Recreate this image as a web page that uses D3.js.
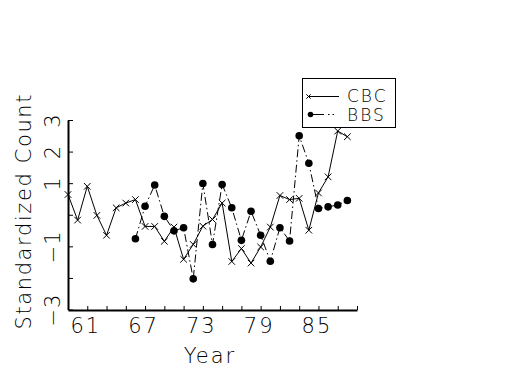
<!DOCTYPE html>
<html>
<head>
<meta charset="utf-8">
<script src="https://cdn.jsdelivr.net/npm/d3@7"></script>
<style>
  body { margin: 0; background: #fff; }
  text { font-family: "DejaVu Sans", sans-serif; font-weight: 200; fill: #000; }
</style>
</head>
<body>
<svg id="chart" width="525" height="375"></svg>
<script>
// survey years, 1959-1988
const cbcYears = [59, 60, 61, 62, 63, 64, 65, 66, 67, 68, 69, 70, 71, 72, 73,
  74, 75, 76, 77, 78, 79, 80, 81, 82, 83, 84, 85, 86, 87, 88];
const cbcValues = [0.64, -0.17, 0.90, -0.02, -0.65, 0.22, 0.37, 0.48, -0.37, -0.37,
  -0.84, -0.39, -1.41, -0.94, -0.36, -0.15, 0.37, -1.48, -1.07, -1.53,
  -1.02, -0.39, 0.61, 0.48, 0.52, -0.49, 0.69, 1.20, 2.65, 2.47];
const bbsYears = [66, 67, 68, 69, 70, 71, 72, 73, 74, 75, 76, 77,
  78, 79, 80, 81, 82, 83, 84, 85, 86, 87, 88];
const bbsValues = [-0.76, 0.27, 0.94, -0.05, -0.51, -0.41, -2.03, 0.99, -0.94, 0.96,
  0.22, -0.81, 0.11, -0.65, -1.47, -0.41, -0.83, 2.50, 1.63, 0.20, 0.25, 0.31, 0.45];
const xTickValues = [59, 61, 63, 65, 67, 69, 71, 73, 75, 77, 79, 81, 83, 85, 87, 89];
const xTickLabels = [61, 67, 73, 79, 85];
const yTickValues = [-3, -2, -1, 0, 1, 2, 3];
const yTickLabels = [3, 2, 1, -1, -3];

const svg = d3.select("#chart");

const x = d3.scaleLinear().domain([59, 89]).range([68, 357]);
const y = d3.scaleLinear().domain([-3, 3]).range([309.5, 120]);

const fmt = (v) => (v < 0 ? "\u2212" + Math.abs(v) : "" + v);

// y axis
const yAxis = svg.append("g")
  .attr("transform", "translate(68,0)")
  .call(d3.axisLeft(y).tickValues(yTickValues)
    .tickSizeInner(-5).tickSizeOuter(0)
    .tickFormat((d) => yTickLabels.includes(d) ? fmt(d) : ""));
yAxis.select(".domain").attr("stroke-width", 2);
yAxis.selectAll("text")
  .attr("transform", "rotate(-90)")
  .attr("x", 0).attr("y", -8).attr("dy", 0)
  .attr("text-anchor", "middle")
  .style("font-size", "21px").style("letter-spacing", "1px")
  .style("font-family", "DejaVu Sans, sans-serif");

// x axis
const xAxis = svg.append("g")
  .attr("transform", "translate(0,310)")
  .call(d3.axisBottom(x).tickValues(xTickValues)
    .tickSizeInner(-4).tickSizeOuter(0)
    .tickFormat((d) => xTickLabels.includes(d) ? d : ""));
xAxis.select(".domain").attr("stroke-width", 2);
xAxis.selectAll("text")
  .attr("x", -2).attr("y", 23).attr("dy", 0)
  .style("font-size", "21px").style("letter-spacing", "2px")
  .style("font-family", "DejaVu Sans, sans-serif");

// axis titles
svg.append("text")
  .attr("x", 210).attr("y", 363)
  .attr("text-anchor", "middle")
  .style("font-size", "21px").style("letter-spacing", "2px")
  .text("Year");

svg.append("text")
  .attr("transform", "translate(31,212) rotate(-90)")
  .attr("text-anchor", "middle")
  .attr("textLength", 235).attr("lengthAdjust", "spacing")
  .style("font-size", "21px")
  .text("Standardized Count");

// series
const cbc = cbcYears.map((yr, i) => ({ yr: yr, v: cbcValues[i] }));
const bbs = bbsYears.map((yr, i) => ({ yr: yr, v: bbsValues[i] }));

const line = d3.line().x((d) => x(d.yr)).y((d) => y(d.v));

svg.append("path")
  .datum(cbc)
  .attr("d", line)
  .attr("fill", "none").attr("stroke", "#000").attr("stroke-width", 1);

svg.append("path")
  .datum(bbs)
  .attr("d", line)
  .attr("fill", "none").attr("stroke", "#000").attr("stroke-width", 1)
  .attr("stroke-dasharray", "8,3,1.5,3");

const cross = d3.symbol().type(d3.symbolX).size(30);

svg.append("g").selectAll("path")
  .data(cbc)
  .join("path")
  .attr("d", cross)
  .attr("transform", (d) => `translate(${x(d.yr)},${y(d.v)})`)
  .attr("fill", "none").attr("stroke", "#000").attr("stroke-width", 1);

svg.append("g").selectAll("circle")
  .data(bbs)
  .join("circle")
  .attr("cx", (d) => x(d.yr))
  .attr("cy", (d) => y(d.v))
  .attr("r", 3.8)
  .attr("fill", "#000");

// legend
const legend = svg.append("g");
legend.append("rect")
  .attr("x", 302.5).attr("y", 78.5)
  .attr("width", 93).attr("height", 49)
  .attr("fill", "#fff").attr("stroke", "#000").attr("stroke-width", 1);

legend.append("line")
  .attr("x1", 308).attr("x2", 339).attr("y1", 96.5).attr("y2", 96.5)
  .attr("stroke", "#000");
legend.append("path")
  .attr("d", d3.symbol().type(d3.symbolX).size(14))
  .attr("transform", "translate(308.5,96.5)")
  .attr("fill", "none").attr("stroke", "#000");
legend.append("text")
  .attr("x", 347).attr("y", 102)
  .style("font-size", "17px").style("letter-spacing", "2px")
  .text("CBC");

legend.append("line")
  .attr("x1", 310).attr("x2", 334).attr("y1", 114.5).attr("y2", 114.5)
  .attr("stroke", "#000").attr("stroke-dasharray", "14,4,1.5,3");
legend.append("circle")
  .attr("cx", 310.5).attr("cy", 114.5).attr("r", 2.8).attr("fill", "#000");
legend.append("text")
  .attr("x", 347).attr("y", 121)
  .style("font-size", "17px").style("letter-spacing", "2px")
  .text("BBS");
</script>
</body>
</html>
